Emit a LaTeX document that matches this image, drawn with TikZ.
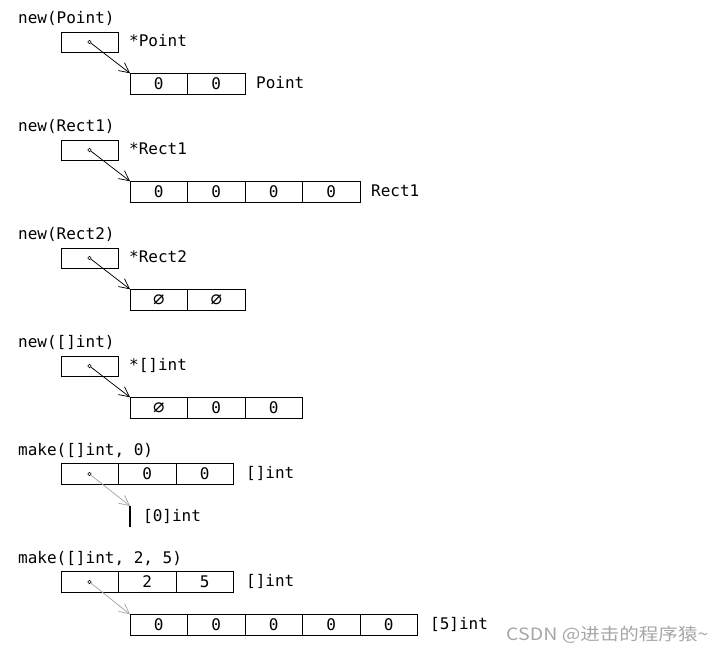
\documentclass[tikz,border=0pt]{standalone}
\usepackage{fontspec}
\setmonofont{DejaVu Sans Mono}
\newfontfamily\symfont{DejaVu Sans}
\newfontfamily\cjk{Noto Sans CJK SC}
\usetikzlibrary{arrows.meta}
\begin{document}
\begin{tikzpicture}[x=1pt,y=-1pt,
  every node/.style={font=\ttfamily\fontsize{16}{19}\selectfont},
  lbl/.style={anchor=base west, inner sep=0},
  cell/.style={draw, line width=0.8pt, minimum width=57.5pt, minimum height=21.5pt, inner sep=0, outer sep=0},
  pbox/.style={draw, line width=0.8pt, minimum width=57pt, minimum height=20pt, inner sep=0, outer sep=0},
  dotn/.style={circle, draw, line width=0.6pt, fill=white, minimum size=3.4pt, inner sep=0, outer sep=0},
  ptr/.style={line width=0.75pt, -{Straight Barb[length=10pt,width=10pt,line width=0.75pt]}},
  gptr/.style={ptr, draw=black!35},
  nilsym/.style={font=\symfont\fontsize{19}{20}\selectfont}
]
\useasboundingbox (0,0) rectangle (725,651);

% ---------- new(Point)
\node[lbl] (t1) at (18,23) {new(Point)};
\node[pbox] (p1) at (89.5,42) {};
\node[dotn] (d1) at (89.5,42) {};
\node[lbl] (pt1) at (129,46) {*Point};
\node[cell] (a1) at (158.75,84) {0};
\node[cell] (a2) at (216.25,84) {0};
\node[lbl] (ty1) at (256,88) {Point};
\draw[ptr] (d1) -- (a1.north west);

% ---------- new(Rect1)
\node[lbl] (t2) at (18,131) {new(Rect1)};
\node[pbox] (p2) at (89.5,150) {};
\node[dotn] (d2) at (89.5,150) {};
\node[lbl] (pt2) at (129,154) {*Rect1};
\node[cell] (b1) at (158.75,192) {0};
\node[cell] (b2) at (216.25,192) {0};
\node[cell] (b3) at (273.75,192) {0};
\node[cell] (b4) at (331.25,192) {0};
\node[lbl] (ty2) at (371,196) {Rect1};
\draw[ptr] (d2) -- (b1.north west);

% ---------- new(Rect2)
\node[lbl] (t3) at (18,239) {new(Rect2)};
\node[pbox] (p3) at (89.5,258) {};
\node[dotn] (d3) at (89.5,258) {};
\node[lbl] (pt3) at (129,262) {*Rect2};
\node[cell, nilsym] (c1) at (158.75,300) {⌀};
\node[cell, nilsym] (c2) at (216.25,300) {⌀};
\draw[ptr] (d3) -- (c1.north west);

% ---------- new([]int)
\node[lbl] (t4) at (18,347) {new([]int)};
\node[pbox] (p4) at (89.5,366) {};
\node[dotn] (d4) at (89.5,366) {};
\node[lbl] (pt4) at (129,370) {*[]int};
\node[cell, nilsym] (e1) at (158.75,408) {⌀};
\node[cell] (e2) at (216.25,408) {0};
\node[cell] (e3) at (273.75,408) {0};
\draw[ptr] (d4) -- (e1.north west);

% ---------- make([]int, 0)
\node[lbl] (t5) at (18,455) {make([]int, 0)};
\node[cell] (f1) at (89.75,474) {};
\node[cell] (f2) at (147.25,474) {0};
\node[cell] (f3) at (204.75,474) {0};
\node[dotn] (d5) at (89.5,474) {};
\node[lbl] (ty5) at (246,478) {[]int};
\coordinate (z0) at (130,506);
\coordinate (z1) at (130,527);
\draw[line width=2pt] (z0) -- (z1);
\node[lbl] (ty5b) at (143,521) {[0]int};
\draw[gptr] (d5) -- (z0);

% ---------- make([]int, 2, 5)
\node[lbl] (t6) at (18,563) {make([]int, 2, 5)};
\node[cell] (g1) at (89.75,582) {};
\node[cell] (g2) at (147.25,582) {2};
\node[cell] (g3) at (204.75,582) {5};
\node[dotn] (d6) at (89.5,582) {};
\node[lbl] (ty6) at (246,586) {[]int};
\node[cell] (h1) at (158.75,625) {0};
\node[cell] (h2) at (216.25,625) {0};
\node[cell] (h3) at (273.75,625) {0};
\node[cell] (h4) at (331.25,625) {0};
\node[cell] (h5) at (388.75,625) {0};
\node[lbl] (ty6b) at (430,629) {[5]int};
\draw[gptr] (d6) -- (h1.north west);

% ---------- watermark
\node[lbl, font=\cjk\fontsize{17}{20}\selectfont, text=black!35, xscale=1.15] (wm) at (506,640) {CSDN @进击的程序猿\textasciitilde};
\end{tikzpicture}
\end{document}
